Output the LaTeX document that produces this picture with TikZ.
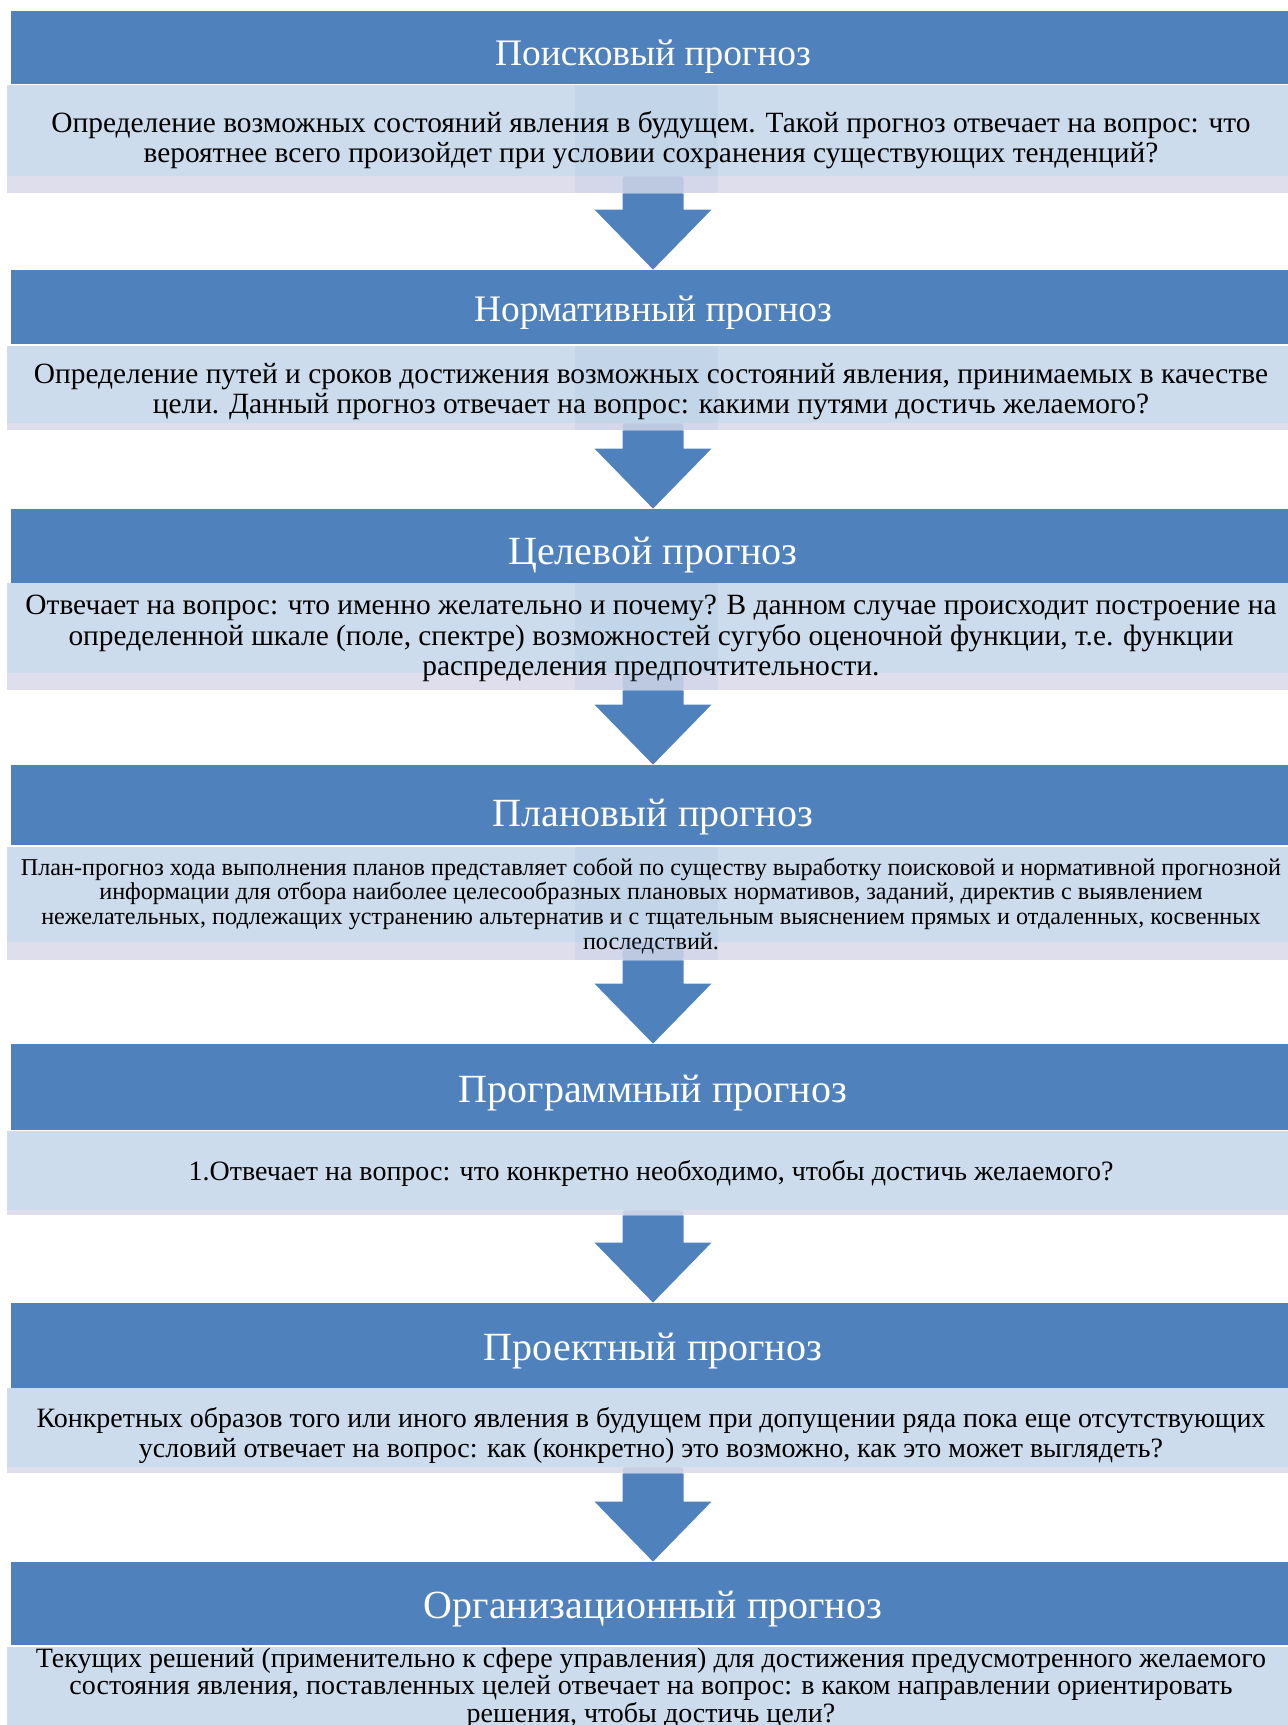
\documentclass[tikz,border=0pt]{standalone}
\usepackage{fontspec}
\setmainfont{Liberation Serif}
\usepackage{xcolor}
\usepackage{tikz}
\usetikzlibrary{positioning, calc}
\definecolor{headblue}{RGB}{79, 129, 189}
\definecolor{boxblue}{RGB}{204, 220, 236}
\definecolor{boxlav}{RGB}{222, 222, 237}
\setlength{\lineskiplimit}{-100pt}

\begin{document}
\begin{tikzpicture}[x=0.5pt, y=-0.5pt,
        header/.style={rectangle, fill=headblue, text=white, inner sep=0pt, minimum width=642pt,
            text height=15pt, text depth=0pt, font=\fontsize{20pt}{24pt}\selectfont},
        textbox/.style={rectangle, fill=boxlav, inner sep=0pt, minimum width=644pt,
            path picture={\fill[boxblue] (path picture bounding box.north west) rectangle ([yshift=#1]path picture bounding box.south east);}},
        boxtext/.style={inner sep=0pt, align=center, font=\fontsize{14pt}{15pt}\selectfont},
        arrowfill/.style={fill=headblue},
        shaftin/.style={fill=headblue, opacity=0.16},
        bandfill/.style={fill=headblue, opacity=0.07}]
    \clip (0,0) rectangle (1288,1725);

    % headers
    \node[header, minimum height=36.5pt, text height=18.4pt, font=\fontsize{18.7pt}{22pt}\selectfont] (h1) at (653,47.5) {Поисковый прогноз};
    \node[header, minimum height=37pt, text height=14pt, font=\fontsize{18.7pt}{22pt}\selectfont] (h2) at (653,307) {Нормативный прогноз};
    \node[header, minimum height=37pt, text height=18.2pt] (h3) at (653,546) {Целевой прогноз};
    \node[header, minimum height=40pt, text height=21pt] (h4) at (653,805) {Плановый прогноз};
    \node[header, minimum height=43pt] (h5) at (653,1087) {Программный прогноз};
    \node[header, minimum height=42.5pt] (h6) at (653,1345.5) {Проектный прогноз};
    \node[header, minimum height=41.5pt] (h7) at (653,1603.5) {Организационный прогноз};

    % text boxes
    \node[textbox=8.5pt, minimum height=54pt] (t1) at (651,139) {};
    \node[textbox=3.5pt, minimum height=42pt] (t2) at (651,388) {};
    \node[textbox=8.5pt, minimum height=53.5pt] (t3) at (651,636.5) {};
    \node[textbox=9pt, minimum height=56.5pt] (t4) at (651,903.5) {};
    \node[textbox=2.5pt, minimum height=42pt] (t5) at (651,1173) {};
    \node[textbox=3pt, minimum height=42.5pt] (t6) at (651,1430.5) {};
    \node[textbox=0pt, minimum height=60pt] (t7) at (651,1707) {};

    % darker band over the upper boxes
    \foreach \a/\b in {t1/h2, t2/h3, t3/h4, t4/h5}{
        \fill[bandfill] let \p1=(\a.north), \p2=(\a.south), \p3=(\b.north) in
            (\x3-39pt,\y1) rectangle (\x3+32.5pt,\y2);
    }

    % box texts
    \node[boxtext, font=\fontsize{14.7pt}{15pt}\selectfont] (t1text) at ([yshift=-0.5pt]t1.center) {Определение возможных состояний явления в будущем. Такой прогноз отвечает на вопрос: что\\вероятнее всего произойдет при условии сохранения существующих тенденций?};
    \node[boxtext, font=\fontsize{14.7pt}{15pt}\selectfont] (t2text) at ([yshift=-2pt]t2.center) {Определение путей и сроков достижения возможных состояний явления, принимаемых в качестве\\цели. Данный прогноз отвечает на вопрос: какими путями достичь желаемого?};
    \node[boxtext, font=\fontsize{14.7pt}{15.25pt}\selectfont] (t3text) at ([yshift=-1pt]t3.center) {Отвечает на вопрос: что именно желательно и почему? В данном случае происходит построение на\\определенной шкале (поле, спектре) возможностей сугубо оценочной функции, т.е. функции\\распределения предпочтительности.};
    \node[boxtext, font=\fontsize{12.1pt}{12.4pt}\selectfont] (t4text) at ([yshift=-1.25pt]t4.center) {План-прогноз хода выполнения планов представляет собой по существу выработку поисковой и нормативной прогнозной\\информации для отбора наиболее целесообразных плановых нормативов, заданий, директив с выявлением\\нежелательных, подлежащих устранению альтернатив и с тщательным выяснением прямых и отдаленных, косвенных\\последствий.};
    \node[boxtext] (t5text) at (t5.center) {1.Отвечает на вопрос: что конкретно необходимо, чтобы достичь желаемого?};
    \node[boxtext] (t6text) at ([yshift=-2.25pt]t6.center) {Конкретных образов того или иного явления в будущем при допущении ряда пока еще отсутствующих\\условий отвечает на вопрос: как (конкретно) это возможно, как это может выглядеть?};
    \node[boxtext, font=\fontsize{14pt}{13.75pt}\selectfont] (t7text) at ([yshift=9.5pt]t7.center) {Текущих решений (применительно к сфере управления) для достижения предусмотренного желаемого\\состояния явления, поставленных целей отвечает на вопрос: в каком направлении ориентировать\\решения, чтобы достичь цели?};

    % block arrows
    \foreach \a/\b/\s in {t1/h2/8.5pt, t2/h3/3.5pt, t3/h4/8.5pt, t4/h5/9pt, t5/h6/2.5pt, t6/h7/3pt}{
        \fill[shaftin, rounded corners=1.5pt] let \p1=(\a.south), \p2=(\b.north) in
            (\x2-15.25pt,\y1) rectangle (\x2+15.25pt,\y1+\s);
        \fill[arrowfill] let \p1=(\a.south), \p2=(\b.north) in
            (\x2-15.25pt,\y1) -- (\x2-15.25pt,\y2+30pt) -- (\x2-29.25pt,\y2+30pt) -- (\x2,\y2)
            -- (\x2+29.25pt,\y2+30pt) -- (\x2+15.25pt,\y2+30pt) -- (\x2+15.25pt,\y1) -- cycle;
    }
\end{tikzpicture}
\end{document}
